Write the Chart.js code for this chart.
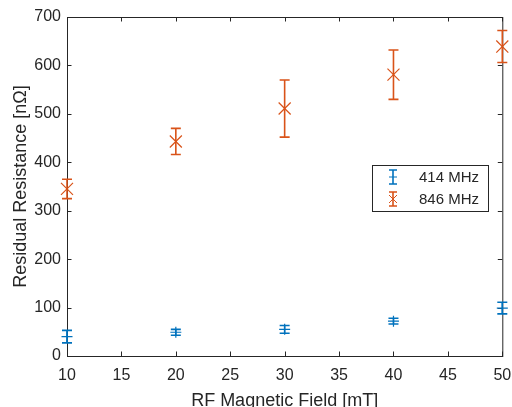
<!DOCTYPE html>
<html>
<head>
<meta charset="utf-8">
<script src="https://cdn.jsdelivr.net/npm/chart.js@4.4.1/dist/chart.umd.min.js"></script>
<style>
  html, body { margin: 0; padding: 0; background: #fff; }
  #wrap { width: 512px; height: 407px; }
</style>
</head>
<body>
<div id="wrap"><canvas id="chart" width="512" height="407"></canvas></div>
<script>
// --- data ---
const fieldMT = [10, 20, 30, 40, 50];
const res414 = [40, 49, 55, 72, 99];
const err414 = [13, 6, 8, 6, 12];
const res846 = [345, 443, 511, 581, 639];
const err846 = [20, 27, 59, 51, 33];

const xTicks = [10, 15, 20, 25, 30, 35, 40, 45, 50];
const yTicks = [0, 100, 200, 300, 400, 500, 600, 700];

const seriesNames = ['414 MHz', '846 MHz'];
const BLUE = '#0072BD';
const ORANGE = '#D95319';
const AXIS = '#262626';
const FONT = '"Liberation Sans", Arial, sans-serif';

const toPoints = (ys) => fieldMT.map((x, i) => ({ x: x, y: ys[i] }));

// box, inward ticks and axis titles (matlab look)
const framePlugin = {
    id: 'frame',
    beforeDatasetsDraw(chart) {
        const { ctx, chartArea: a, scales } = chart;
        ctx.save();
        ctx.strokeStyle = AXIS;
        ctx.lineWidth = 1;
        ctx.strokeRect(a.left + 0.5, a.top + 0.5, a.right - a.left, a.bottom - a.top);
        const tl = 4.5;
        ctx.beginPath();
        xTicks.forEach(v => {
            const px = Math.round(scales.x.getPixelForValue(v)) + 0.5;
            ctx.moveTo(px, a.bottom); ctx.lineTo(px, a.bottom - tl);
            ctx.moveTo(px, a.top); ctx.lineTo(px, a.top + tl);
        });
        yTicks.forEach(v => {
            const py = Math.round(scales.y.getPixelForValue(v)) + 0.5;
            ctx.moveTo(a.left, py); ctx.lineTo(a.left + tl, py);
            ctx.moveTo(a.right, py); ctx.lineTo(a.right - tl, py);
        });
        ctx.stroke();

        // axis titles
        ctx.fillStyle = AXIS;
        ctx.font = '18px ' + FONT;
        ctx.textAlign = 'center';
        ctx.textBaseline = 'middle';
        ctx.fillText('RF Magnetic Field [mT]', (a.left + a.right) / 2, 401);
        ctx.translate(21, (a.top + a.bottom) / 2);
        ctx.rotate(-Math.PI / 2);
        ctx.fillText('Residual Resistance [n\u03A9]', 0, 0);
        ctx.restore();
    }
};

// vertical error bars with caps
function drawErrBar(ctx, x, yTop, yBot, cap) {
    ctx.beginPath();
    ctx.moveTo(x, yTop); ctx.lineTo(x, yBot);
    ctx.moveTo(x - cap, yTop); ctx.lineTo(x + cap, yTop);
    ctx.moveTo(x - cap, yBot); ctx.lineTo(x + cap, yBot);
    ctx.stroke();
}

const errorBarPlugin = {
    id: 'errorBars',
    afterDatasetsDraw(chart) {
        const { ctx, scales } = chart;
        ctx.save();
        ctx.lineWidth = 1.6;
        chart.data.datasets.forEach(ds => {
            ctx.strokeStyle = ds.borderColor;
            ds.data.forEach((p, i) => {
                const e = ds.errors[i];
                const px = scales.x.getPixelForValue(p.x);
                drawErrBar(ctx, px, scales.y.getPixelForValue(p.y + e), scales.y.getPixelForValue(p.y - e), 5);
            });
        });
        ctx.restore();
    }
};

// legend box inside the axes
const legendPlugin = {
    id: 'boxLegend',
    afterDraw(chart) {
        const { ctx } = chart;
        const bx = 372, by = 165, bw = 116, bh = 46;
        ctx.save();
        ctx.fillStyle = '#fff';
        ctx.fillRect(bx, by, bw, bh);
        ctx.strokeStyle = AXIS;
        ctx.lineWidth = 1;
        ctx.strokeRect(bx + 0.5, by + 0.5, bw, bh);
        chart.data.datasets.forEach((ds, i) => {
            const cy = by + 12 + i * 22;
            const ix = 393;
            ctx.strokeStyle = ds.borderColor;
            ctx.lineWidth = 1.6;
            drawErrBar(ctx, ix, cy - 7, cy + 7, 4);
            ctx.lineWidth = 1;
            ctx.beginPath();
            if (ds.pointStyle === 'crossRot') {
                ctx.moveTo(ix - 4, cy - 4); ctx.lineTo(ix + 4, cy + 4);
                ctx.moveTo(ix - 4, cy + 4); ctx.lineTo(ix + 4, cy - 4);
            } else {
                ctx.moveTo(ix - 4, cy); ctx.lineTo(ix + 4, cy);
            }
            ctx.stroke();
            ctx.fillStyle = AXIS;
            ctx.font = '15px ' + FONT;
            ctx.textAlign = 'left';
            ctx.textBaseline = 'middle';
            ctx.fillText(seriesNames[i], 419, cy + 1);
        });
        ctx.restore();
    }
};

new Chart(document.getElementById('chart'), {
    type: 'scatter',
    data: {
        datasets: [
            {
                label: seriesNames[0],
                data: toPoints(res414),
                errors: err414,
                borderColor: BLUE,
                backgroundColor: BLUE,
                pointStyle: 'cross',
                pointRadius: 5.5,
                pointBorderWidth: 1.2,
                clip: false
            },
            {
                label: seriesNames[1],
                data: toPoints(res846),
                errors: err846,
                borderColor: ORANGE,
                backgroundColor: ORANGE,
                pointStyle: 'crossRot',
                pointRadius: 8.5,
                pointBorderWidth: 1.2,
                clip: false
            }
        ]
    },
    options: {
        responsive: false,
        animation: false,
        layout: { padding: { top: 17, right: 1, left: 0, bottom: 0 } },
        plugins: { legend: { display: false }, tooltip: { enabled: false } },
        scales: {
            x: {
                type: 'linear',
                min: 10, max: 50,
                grid: { display: false, drawTicks: false },
                border: { display: false },
                afterBuildTicks: (s) => { s.ticks = xTicks.map(v => ({ value: v })); },
                afterFit: (s) => { s.height = 51; s.paddingRight = 9; },
                ticks: { color: AXIS, font: { family: FONT, size: 16 }, padding: 10, maxRotation: 0 }
            },
            y: {
                min: 0, max: 700,
                grid: { display: false, drawTicks: false },
                border: { display: false },
                afterBuildTicks: (s) => { s.ticks = yTicks.map(v => ({ value: v })); },
                afterFit: (s) => { s.width = 67; },
                ticks: { color: AXIS, font: { family: FONT, size: 16 }, padding: 6 }
            }
        }
    },
    plugins: [framePlugin, errorBarPlugin, legendPlugin]
});
</script>
</body>
</html>
